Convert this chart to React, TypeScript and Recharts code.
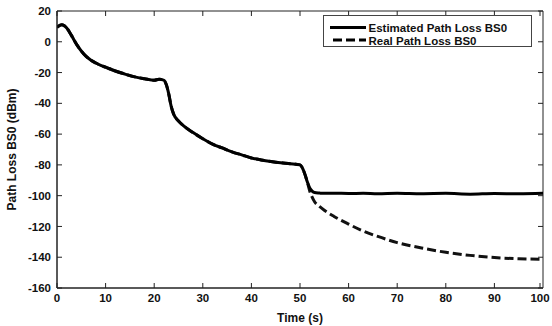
import React from 'react';
import { LineChart, Line, XAxis, YAxis, Legend, ReferenceArea } from 'recharts';

// time (s)
const timeS = [
  0, 1, 2, 3, 4, 5, 6, 7, 8, 9, 10, 12, 14, 16, 18, 20, 21, 22, 22.5, 23, 23.5, 24,
  25, 26, 28, 30, 32, 34, 36, 38, 40, 42, 44, 46, 48, 50, 50.5, 51, 51.5, 52, 52.5, 53,
  54, 55, 57, 60, 63, 66, 70, 75, 80, 85, 90, 95, 100
];

// path loss BS0 (dBm)
const estimatedLoss = [
  9.5, 11, 9, 4, -1.5, -6, -9.5, -12, -13.8, -15.3, -16.5, -19, -21, -22.8, -24, -25, -24.3, -25, -28, -34, -42, -47,
  -51.5, -54.5, -59, -63, -66.5, -69, -71.5, -73.5, -75.5, -76.8, -77.8, -78.6, -79.2, -80, -82, -86, -91, -95, -97, -98,
  -98.3, -98.5, -98.4, -98.6, -98.5, -98.8, -98.4, -98.7, -98.5, -99, -98.6, -98.8, -98.5
];

const realLoss = [
  9.5, 11, 9, 4, -1.5, -6, -9.5, -12, -13.8, -15.3, -16.5, -19, -21, -22.8, -24, -25, -24.3, -25, -28, -34, -42, -47,
  -51.5, -54.5, -59, -63, -66.5, -69, -71.5, -73.5, -75.5, -76.8, -77.8, -78.6, -79.2, -80, -82, -86, -91, -97, -101, -104,
  -107, -109.5, -113.5, -118.5, -123, -126.5, -130.5, -134, -136.8, -138.8, -140.2, -141, -141.3
];

const xTicks = [0, 10, 20, 30, 40, 50, 60, 70, 80, 90, 100];
const yTicks = [-160, -140, -120, -100, -80, -60, -40, -20, 0, 20];

const data = timeS.map((t, i) => ({ t, est: estimatedLoss[i], real: realLoss[i] }));

const W = 552;
const H = 326;
const MARGIN_TOP = 11;
const MARGIN_RIGHT = 9;
const PLOT_RIGHT = W - MARGIN_RIGHT;

const FONT = '"Liberation Sans", Arial, sans-serif';
const FS = 11.5;
const INK = '#111';
const AXIS = '#222';
const TICK_LEN = 5;
const GAP = 6;

// inward ticks (matlab style) on all four sides, drawn with the labels
const BottomTick = ({ x, y, payload }: any) => (
  <g>
    <line x1={x} x2={x} y1={y - GAP} y2={y - GAP - TICK_LEN} stroke={AXIS} />
    <line x1={x} x2={x} y1={MARGIN_TOP} y2={MARGIN_TOP + TICK_LEN} stroke={AXIS} />
    <text x={x} y={y} dy="0.72em" textAnchor="middle" fontFamily={FONT} fontWeight="bold" fontSize={FS} fill={INK}>
      {payload.value}
    </text>
  </g>
);

const LeftTick = ({ x, y, payload }: any) => (
  <g>
    <line x1={x + GAP} x2={x + GAP + TICK_LEN} y1={y} y2={y} stroke={AXIS} />
    <line x1={PLOT_RIGHT} x2={PLOT_RIGHT - TICK_LEN} y1={y} y2={y} stroke={AXIS} />
    <text x={x} y={y} dy="0.36em" textAnchor="end" fontFamily={FONT} fontWeight="bold" fontSize={FS} fill={INK}>
      {payload.value}
    </text>
  </g>
);

const LegendBox = () => (
  <svg width={209} height={32} style={{ display: 'block' }}>
    <rect x={0.5} y={0.5} width={208} height={31} fill="#fff" stroke="#444" />
    <line x1={7} x2={43} y1={12.5} y2={12.5} stroke="#000" strokeWidth={3} />
    <line x1={10} x2={43} y1={25} y2={25} stroke="#000" strokeWidth={3} strokeDasharray="9 4" />
    <text x={45.5} y={17} fontFamily={FONT} fontWeight="bold" fontSize={FS} fill={INK}>
      Estimated Path Loss BS0
    </text>
    <text x={45.5} y={29.5} fontFamily={FONT} fontWeight="bold" fontSize={FS} fill={INK}>
      Real Path Loss BS0
    </text>
  </svg>
);

const labelStyle = { fontFamily: FONT, fontWeight: 'bold', fontSize: 12, fill: INK };

export default function App() {
  return (
    <div style={{ position: 'absolute', left: 0, top: 0, background: '#fff' }}>
      <LineChart
        width={W}
        height={H}
        data={data}
        margin={{ top: MARGIN_TOP, right: MARGIN_RIGHT, bottom: 0, left: 0 }}
      >
        <XAxis
          dataKey="t"
          type="number"
          domain={[0, 100]}
          allowDataOverflow
          ticks={xTicks}
          height={38}
          stroke={AXIS}
          tickLine={false}
          tickSize={0}
          tickMargin={GAP}
          tick={<BottomTick />}
          label={{ value: 'Time (s)', position: 'insideBottom', offset: 4, style: labelStyle }}
        />
        <YAxis
          type="number"
          domain={[-160, 20]}
          allowDataOverflow
          ticks={yTicks}
          width={57}
          stroke={AXIS}
          tickLine={false}
          tickSize={0}
          tickMargin={GAP}
          tick={<LeftTick />}
          label={{
            value: 'Path Loss BS0 (dBm)',
            angle: -90,
            position: 'insideLeft',
            offset: 12,
            style: { ...labelStyle, textAnchor: 'middle' }
          }}
        />
        {/* plot frame (top and right edges) */}
        <ReferenceArea x1={0} x2={100} y1={-160} y2={20} fill="none" stroke={AXIS} strokeWidth={1} />
        <Legend
          layout="vertical"
          align="center"
          verticalAlign="middle"
          content={() => <LegendBox />}
          wrapperStyle={{ top: 15, left: 323, width: 209, height: 32 }}
        />
        <Line
          dataKey="real"
          type="monotone"
          stroke="#111"
          strokeWidth={3}
          strokeDasharray="9 4"
          dot={false}
          isAnimationActive={false}
        />
        <Line
          dataKey="est"
          type="monotone"
          stroke="#000"
          strokeWidth={3}
          dot={false}
          isAnimationActive={false}
        />
      </LineChart>
    </div>
  );
}
